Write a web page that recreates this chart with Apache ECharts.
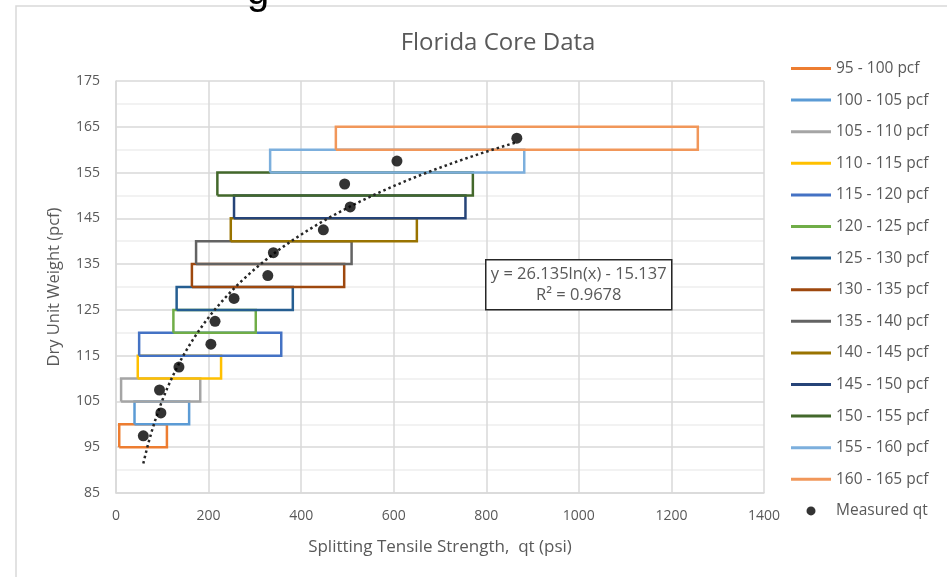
<!DOCTYPE html>
<html>
<head>
<meta charset="utf-8">
<script src="https://cdn.jsdelivr.net/npm/echarts@6/dist/echarts.min.js"></script>
<style>
  html, body { margin: 0; padding: 0; background: #ffffff; }
  #chart { width: 947px; height: 577px; }
</style>
</head>
<body>
<div id="chart"></div>
<script>
// Dry unit weight bands (pcf): lower bound of each 5 pcf band
const bandLow = [95, 100, 105, 110, 115, 120, 125, 130, 135, 140, 145, 150, 155, 160];
const bandNames = ['95 - 100 pcf', '100 - 105 pcf', '105 - 110 pcf', '110 - 115 pcf', '115 - 120 pcf',
  '120 - 125 pcf', '125 - 130 pcf', '130 - 135 pcf', '135 - 140 pcf', '140 - 145 pcf',
  '145 - 150 pcf', '150 - 155 pcf', '155 - 160 pcf', '160 - 165 pcf'];
// Range of splitting tensile strength (psi) observed in each band
const qtMin = [7, 40, 11, 47, 50, 124, 131, 164, 173, 248, 255, 219, 333, 475];
const qtMax = [110, 158, 182, 227, 357, 302, 382, 493, 509, 650, 755, 771, 882, 1257];
// Measured qt (psi) plotted at each band's mid weight
const measuredQt = [59, 97, 94, 136, 205, 214, 255, 328, 340, 448, 506, 494, 607, 866];
const measuredWeight = [97.5, 102.5, 107.5, 112.5, 117.5, 122.5, 127.5, 132.5, 137.5, 142.5, 147.5, 152.5, 157.5, 162.5];
// Logarithmic trend: y = a ln(x) + b
const trendA = 26.135;
const trendB = -15.137;
const trendR2 = 0.9678;

const bandColors = ['#ED7D31', '#5B9BD5', '#A5A5A5', '#FFC000', '#4472C4', '#70AD47', '#255E91',
  '#9E480E', '#636363', '#997300', '#264478', '#43682B', '#7CAFDD', '#F1975A'];

const textGray = '#595959';
const font = "'Open Sans', 'Noto Sans', sans-serif";
// Flat bar used as the legend key for the band outlines
const lineIcon = 'path://M0,0 L40,0 L40,3 L0,3 Z';

// One closed outline per band
const bandSeries = bandLow.map((lo, i) => {
  const hi = lo + 5;
  return {
    name: bandNames[i],
    type: 'line',
    symbol: 'none',
    silent: true,
    z: 2,
    lineStyle: { color: bandColors[i], width: 2.5, join: 'miter' },
    itemStyle: { color: bandColors[i] },
    data: [[qtMin[i], lo], [qtMax[i], lo], [qtMax[i], hi], [qtMin[i], hi], [qtMin[i], lo]]
  };
});

// Trend curve sampled across the measured range
const xLo = Math.min(...measuredQt);
const xHi = Math.max(...measuredQt);
const trendData = [];
const steps = 60;
for (let k = 0; k <= steps; k++) {
  const x = xLo * Math.pow(xHi / xLo, k / steps);
  trendData.push([x, trendA * Math.log(x) + trendB]);
}

const eqText = 'y = ' + trendA.toFixed(3) + 'ln(x) - ' + Math.abs(trendB).toFixed(3) +
  '\nR² = ' + trendR2.toFixed(4);

const chart = echarts.init(document.getElementById('chart'), null, { renderer: 'canvas' });

chart.setOption({
  backgroundColor: '#ffffff',
  animation: false,
  textStyle: { fontFamily: font },
  title: {
    text: 'Florida Core Data',
    left: 493,
    textAlign: 'center',
    top: 26,
    textStyle: { color: textGray, fontSize: 24, fontWeight: 'normal', fontFamily: font }
  },
  grid: { left: 116, right: 183, top: 81, bottom: 84, containLabel: false },
  xAxis: {
    type: 'value',
    min: 0, max: 1400, interval: 200,
    name: 'Splitting Tensile Strength,  qt (psi)',
    nameLocation: 'middle',
    nameGap: 46,
    nameTextStyle: { color: textGray, fontSize: 17, fontFamily: font },
    axisLine: { show: true, lineStyle: { color: '#d9d9d9', width: 1.5 } },
    axisTick: { show: false },
    axisLabel: { color: textGray, fontSize: 14, margin: 16, fontFamily: font, formatter: v => String(v) },
    splitLine: { show: true, lineStyle: { color: '#d9d9d9', width: 1.5 } }
  },
  yAxis: {
    type: 'value',
    min: 85, max: 175, interval: 5,
    name: 'Dry Unit Weight (pcf)',
    nameLocation: 'middle',
    nameGap: 53,
    nameTextStyle: { color: textGray, fontSize: 16.5, fontFamily: font },
    axisLine: { show: true, lineStyle: { color: '#d9d9d9', width: 1.5 } },
    axisTick: { show: false },
    axisLabel: {
      color: textGray, fontSize: 14, margin: 16, fontFamily: font,
      formatter: v => ((v - 85) % 10 === 0 ? String(v) : '')
    },
    splitLine: { show: true, lineStyle: { color: ['#d9d9d9', '#eeeeee'], width: 1.5 } }
  },
  legend: {
    orient: 'vertical',
    left: 786,
    top: 55,
    itemWidth: 40,
    itemHeight: 9,
    itemGap: 14.6,
    selectedMode: false,
    textStyle: { color: textGray, fontSize: 15.5, lineHeight: 17, fontFamily: font },
    data: bandNames.map(n => ({ name: n, icon: lineIcon })).concat([{ name: 'Measured qt', icon: 'circle' }])
  },
  graphic: [
    {
      type: 'rect',
      silent: true,
      z: 0,
      shape: { x: 16, y: 6, width: 960, height: 600 },
      style: { fill: 'none', stroke: '#d9d9d9', lineWidth: 1.5 }
    },
    {
      type: 'text',
      silent: true,
      left: 247,
      top: -27,
      style: { text: 'g', fontSize: 40, fill: '#000000', fontFamily: "'Liberation Sans', sans-serif" }
    },
    {
      type: 'group',
      left: 485,
      top: 259,
      silent: true,
      z: 100,
      children: [
        {
          type: 'rect',
          z: 100,
          shape: { x: 0, y: 0, width: 186, height: 50 },
          style: { fill: '#ffffff', stroke: '#262626', lineWidth: 1.5 }
        },
        {
          type: 'text',
          z: 101,
          x: 93,
          y: 25,
          style: {
            text: eqText, fill: textGray, fontSize: 16.5, lineHeight: 21,
            align: 'center', verticalAlign: 'middle', fontFamily: font
          }
        }
      ]
    }
  ],
  series: bandSeries.concat([
    {
      name: 'Trend',
      type: 'line',
      symbol: 'none',
      silent: true,
      smooth: false,
      z: 3,
      lineStyle: { color: '#262626', width: 2.5, type: [2.5, 3] },
      data: trendData
    },
    {
      name: 'Measured qt',
      type: 'scatter',
      symbol: 'circle',
      symbolSize: 11,
      z: 4,
      itemStyle: { color: '#000000' },
      data: measuredQt.map((q, i) => [q, measuredWeight[i]])
    }
  ])
});
</script>
</body>
</html>
